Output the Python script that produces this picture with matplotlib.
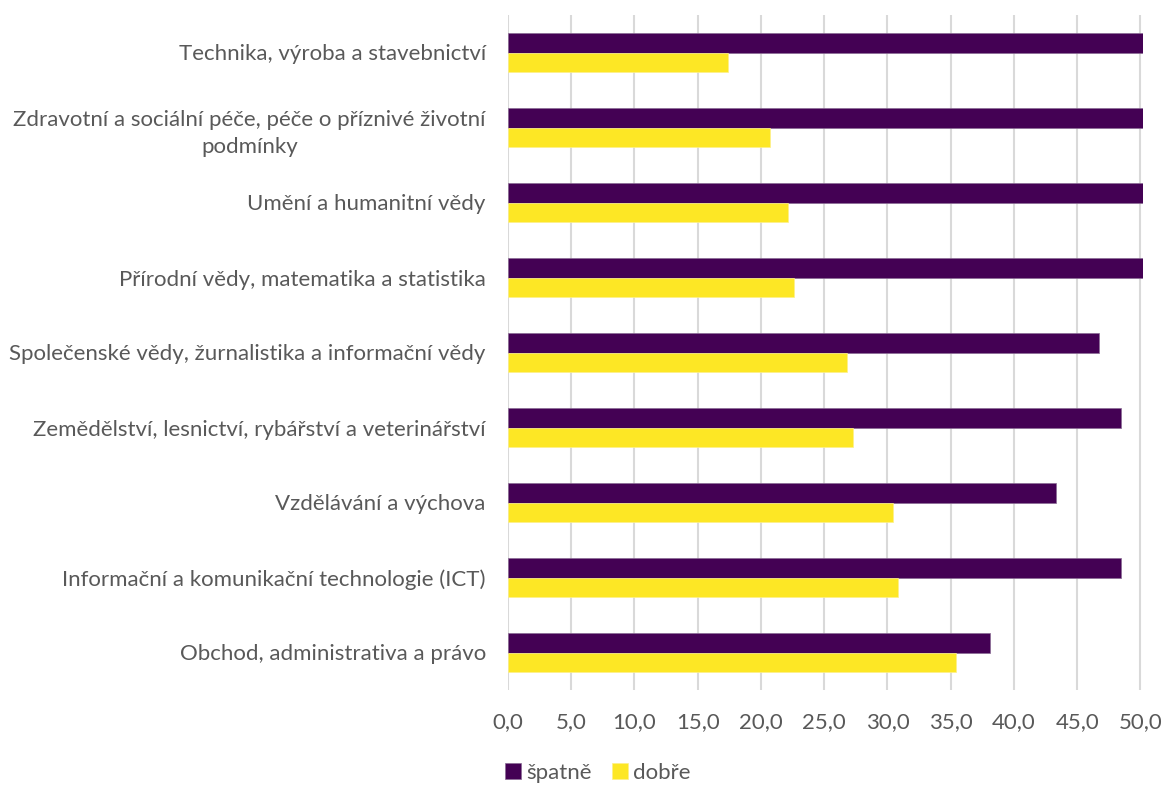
import numpy as np
import matplotlib.pyplot as plt
from matplotlib.ticker import FuncFormatter

# obory, shora dolů
kategorie = [
    'Technika, výroba a stavebnictví',
    'Zdravotní a sociální péče, péče o příznivé životní\npodmínky',
    'Umění a humanitní vědy',
    'Přírodní vědy, matematika a statistika',
    'Společenské vědy, žurnalistika a informační vědy',
    'Zemědělství, lesnictví, rybářství a veterinářství',
    'Vzdělávání a výchova',
    'Informační a komunikační technologie (ICT)',
    'Obchod, administrativa a právo',
]
spatne = [50.2, 50.2, 50.2, 50.2, 46.7, 48.5, 43.3, 48.5, 38.1]
dobre = [17.4, 20.7, 22.1, 22.6, 26.8, 27.3, 30.4, 30.8, 35.4]

plt.rcParams['font.family'] = ['Lato', 'DejaVu Sans']
seda = '#595959'
fs = 16

fig = plt.figure(figsize=(11.65, 7.85), dpi=100)
ax = fig.add_axes([508 / 1165, 1 - 690 / 785, 635 / 1165, 675 / 785])

y = np.arange(len(kategorie))
h = 0.26
ax.barh(y - h / 2, spatne, height=h, color='#440154', edgecolor='#8a6b94',
        linewidth=0.5, label='špatně', zorder=3)
ax.barh(y + h / 2, dobre, height=h, color='#FDE725', edgecolor='#fdf08a',
        linewidth=0.5, label='dobře', zorder=3)

ax.set_xlim(0, 50.2)
ax.set_ylim(len(kategorie) - 0.5, -0.5)
ax.set_xticks(np.arange(0, 51, 5))
ax.xaxis.set_major_formatter(FuncFormatter(lambda v, p: f'{v:.1f}'.replace('.', ',')))
ax.set_yticks(y)
ax.set_yticklabels(kategorie, multialignment='center', linespacing=1.45)

ax.grid(axis='x', color='#D9D9D9', linewidth=1.5, zorder=0)
for s in ax.spines.values():
    s.set_visible(False)
ax.tick_params(axis='both', length=0, colors=seda, labelsize=fs)
ax.tick_params(axis='x', pad=16)
ax.tick_params(axis='y', pad=16)

fig.legend(handles=ax.patches[::len(kategorie)], labels=['špatně', 'dobře'],
           loc='center', bbox_to_anchor=(598 / 1165, 1 - 773 / 785), ncol=2,
           frameon=False, fontsize=fs, labelcolor=seda, handlelength=0.7,
           handleheight=0.7, handletextpad=0.25, columnspacing=0.9)

fig.savefig('out.png', dpi=100)
